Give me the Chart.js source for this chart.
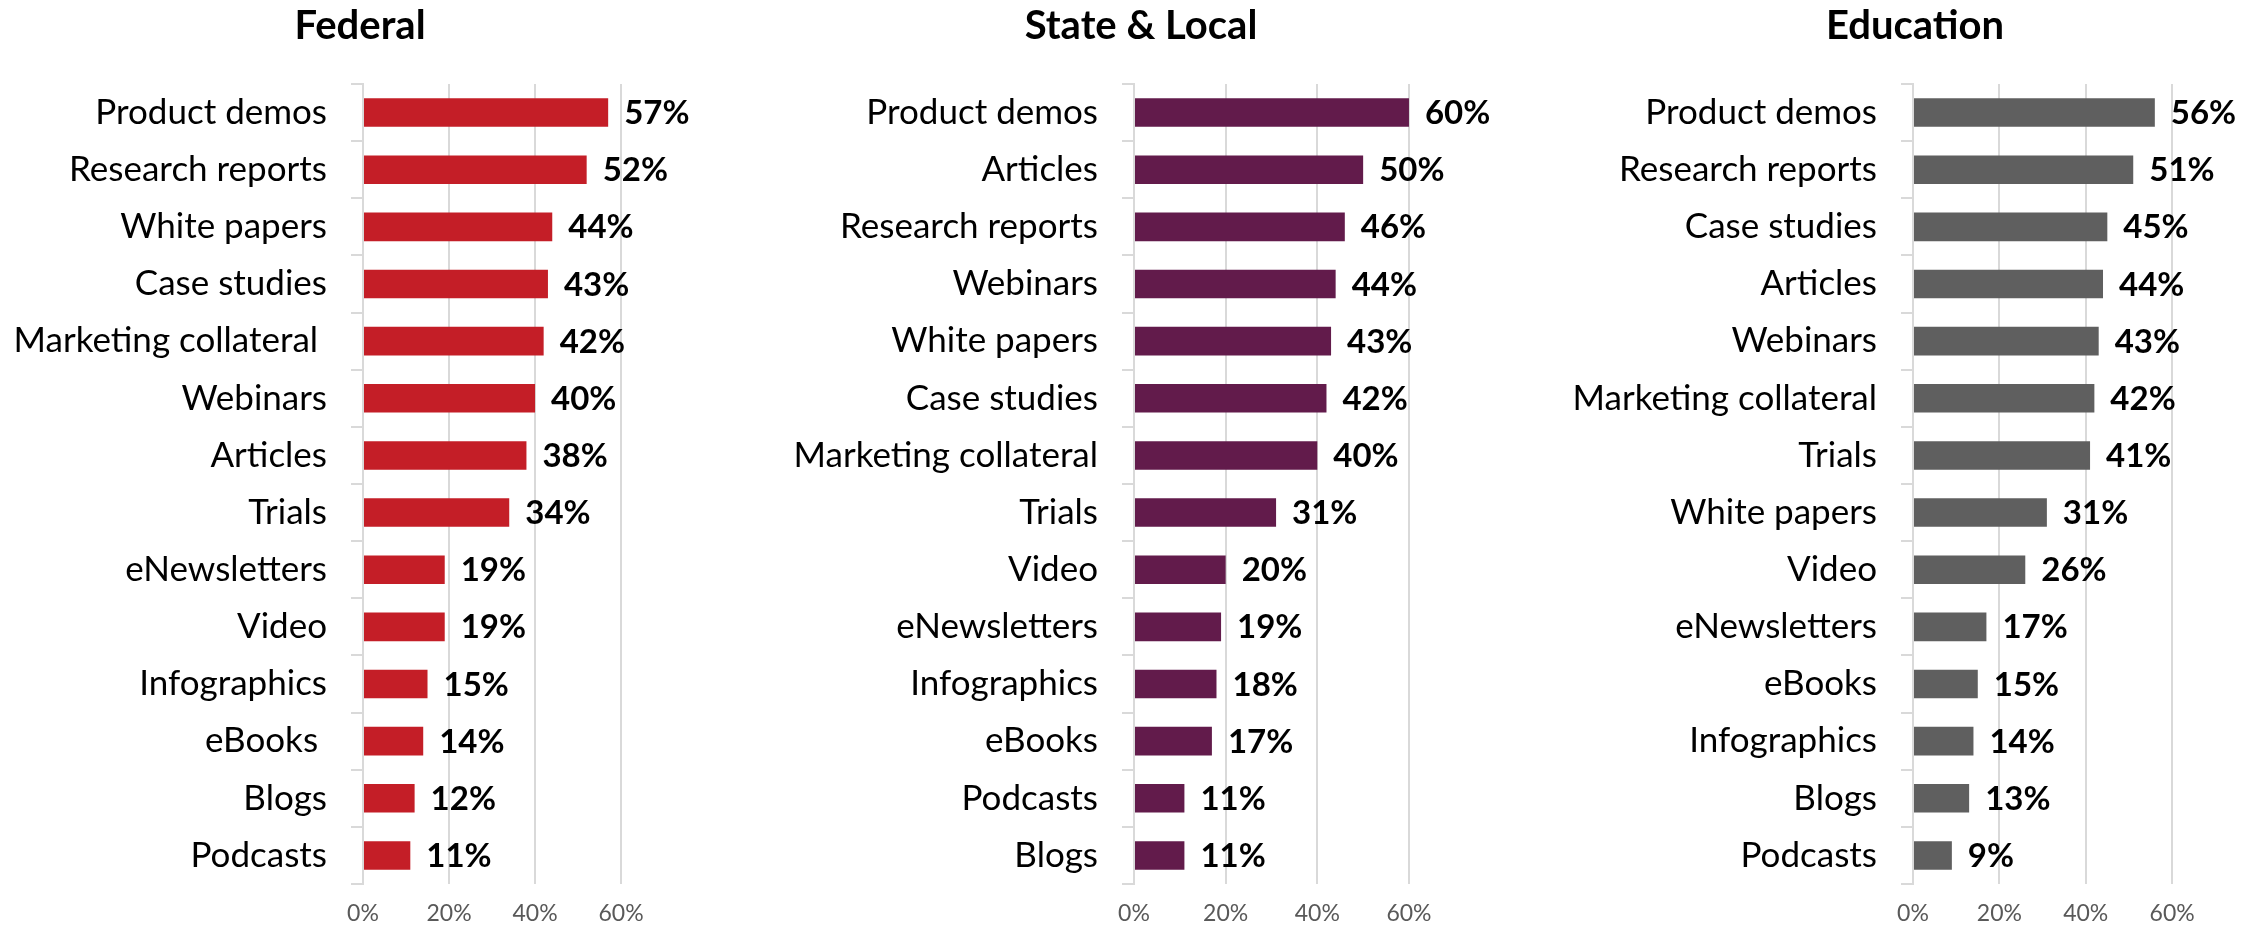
<!DOCTYPE html>
<html>
<head>
<meta charset="utf-8">
<title>Content types by sector</title>
<script src="https://cdn.jsdelivr.net/npm/chart.js@4/dist/chart.umd.min.js"></script>
<style>
  body { margin: 0; background: #fff; }
  #wrap { position: relative; width: 2259px; height: 929px; background: #fff; overflow: hidden; }
  #wrap canvas { position: absolute; top: 0; }
</style>
</head>
<body>
<div id="wrap">
  <canvas id="fedChart" width="720" height="929" style="left:0px"></canvas>
  <canvas id="slChart" width="722" height="929" style="left:780px"></canvas>
  <canvas id="eduChart" width="750" height="929" style="left:1540px"></canvas>
</div>
<script>
// Federal
var fedLabels = ["Product demos", "Research reports", "White papers", "Case studies", "Marketing collateral ", "Webinars", "Articles", "Trials", "eNewsletters", "Video", "Infographics", "eBooks ", "Blogs", "Podcasts"];
var fedValues = [57, 52, 44, 43, 42, 40, 38, 34, 19, 19, 15, 14, 12, 11];

// State & Local
var slLabels = ["Product demos", "Articles", "Research reports", "Webinars", "White papers", "Case studies", "Marketing collateral", "Trials", "Video", "eNewsletters", "Infographics", "eBooks", "Podcasts", "Blogs"];
var slValues = [60, 50, 46, 44, 43, 42, 40, 31, 20, 19, 18, 17, 11, 11];

// Education
var eduLabels = ["Product demos", "Research reports", "Case studies", "Articles", "Webinars", "Marketing collateral", "Trials", "White papers", "Video", "eNewsletters", "eBooks", "Infographics", "Blogs", "Podcasts"];
var eduValues = [56, 51, 45, 44, 43, 42, 41, 31, 26, 17, 15, 14, 13, 9];

var pctTicks = [0, 20, 40, 60];

// prints "NN%" just past the end of each bar
var valueLabels = {
    id: 'valueLabels',
    afterDatasetsDraw: function (chart) {
        var ctx = chart.ctx;
        var meta = chart.getDatasetMeta(0);
        var vals = chart.data.datasets[0].data;
        ctx.save();
        ctx.font = 'bold 33px Lato';
        ctx.fillStyle = '#000000';
        ctx.textAlign = 'left';
        ctx.textBaseline = 'middle';
        for (var i = 0; i < meta.data.length; i++) {
            var bar = meta.data[i];
            ctx.fillText(vals[i] + '%', bar.x + 16, bar.y + 1);
        }
        ctx.restore();
    }
};

// xMax stretches the value axis so the panels share the same 0-60% span
function makePanel(id, title, labels, values, color, axisWidth, xMax) {
    new Chart(document.getElementById(id), {
        type: 'bar',
        data: {
            labels: labels,
            datasets: [
                {
                    data: values,
                    backgroundColor: color,
                    borderWidth: 0,
                    barPercentage: 0.5,
                    categoryPercentage: 1.0
                }
            ]
        },
        options: {
            indexAxis: 'y',
            responsive: false,
            animation: false,
            devicePixelRatio: 1,
            layout: { padding: 0 },
            plugins: {
                legend: { display: false },
                tooltip: { enabled: false },
                title: {
                    display: true,
                    text: title,
                    color: '#000000',
                    font: { family: 'Lato', weight: 'bold', size: 40 },
                    padding: { top: 2, bottom: 34 }
                }
            },
            scales: {
                x: {
                    min: 0,
                    max: xMax,
                    afterBuildTicks: function (scale) {
                        scale.ticks = pctTicks.map(function (v) { return { value: v }; });
                    },
                    afterFit: function (scale) { scale.height = 44; },
                    grid: { color: '#d9d9d9', lineWidth: 2, drawTicks: false },
                    border: { display: false },
                    ticks: {
                        color: '#595959',
                        font: { family: 'Lato', size: 23 },
                        padding: 16,
                        maxRotation: 0,
                        callback: function (v) { return v + '%'; }
                    }
                },
                y: {
                    afterFit: function (scale) { scale.width = axisWidth; },
                    grid: {
                        display: true,
                        drawOnChartArea: false,
                        drawTicks: true,
                        tickLength: 12,
                        offset: true,
                        color: '#d9d9d9',
                        lineWidth: 2
                    },
                    border: { color: '#d9d9d9', width: 2 },
                    ticks: {
                        color: '#000000',
                        font: { family: 'Lato', size: 35 },
                        padding: 24,
                        autoSkip: false
                    }
                }
            }
        },
        plugins: [valueLabels]
    });
}

makePanel('fedChart', 'Federal', fedLabels, fedValues, '#c41e27', 363, 83);
makePanel('slChart', 'State & Local', slLabels, slValues, '#621b4b', 354, 80.3);
makePanel('eduChart', 'Education', eduLabels, eduValues, '#5f5f5f', 373, 87.3);
</script>
</body>
</html>
